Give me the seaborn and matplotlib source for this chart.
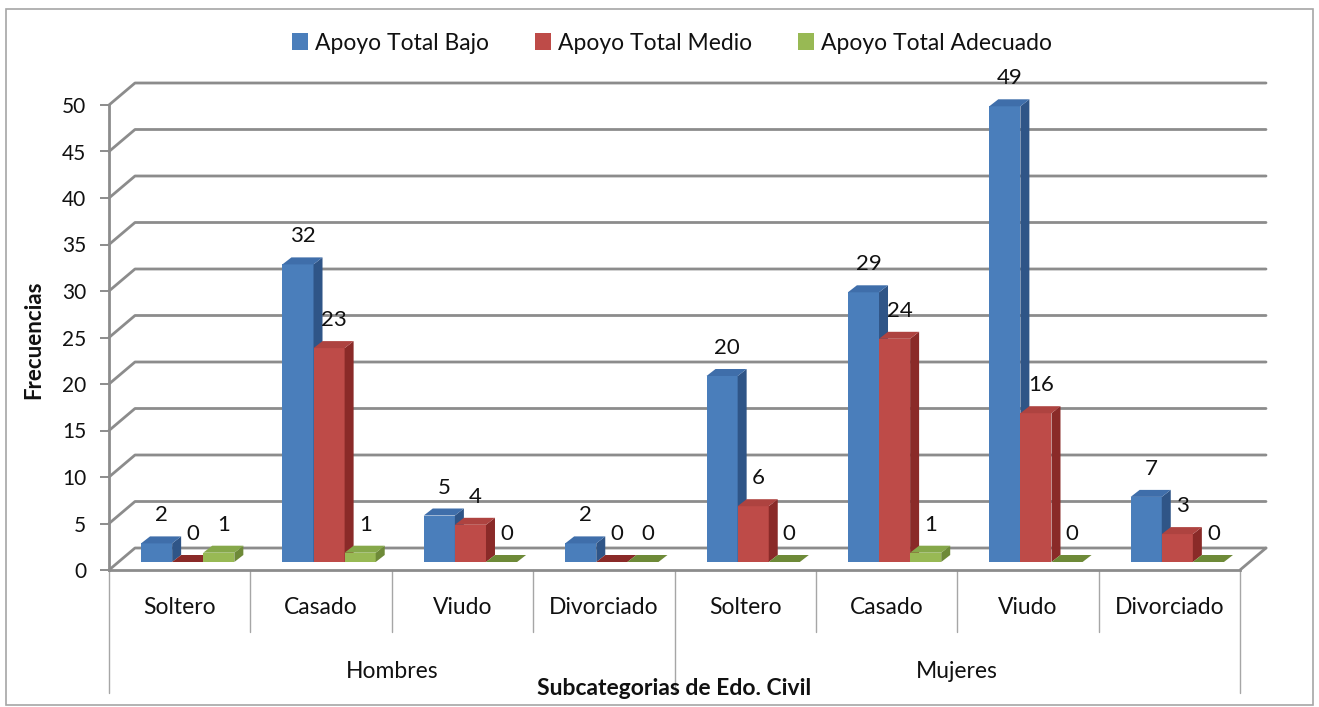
import numpy as np
import pandas as pd
import matplotlib
matplotlib.use("Agg")
import matplotlib.pyplot as plt
from matplotlib.patches import Polygon, Patch, Rectangle
from matplotlib.lines import Line2D
import seaborn as sns

# ---------------- data ----------------
grupos = ["Hombres", "Mujeres"]
estados = ["Soltero", "Casado", "Viudo", "Divorciado"]
series = ["Apoyo Total Bajo", "Apoyo Total Medio", "Apoyo Total Adecuado"]
bajo = [2, 32, 5, 2, 20, 29, 49, 7]
medio = [0, 23, 4, 0, 6, 24, 16, 3]
adecuado = [1, 1, 0, 0, 0, 1, 0, 0]
y_ticks = [0, 5, 10, 15, 20, 25, 30, 35, 40, 45, 50]

# ---------------- styling ----------------
front_col = ["#4A7EBB", "#BE4B48", "#98B954"]
side_col = ["#2F5587", "#8A2A28", "#6E8A38"]
top_col = ["#3F6EAA", "#AE4340", "#86A84A"]
grid_col = "#8C8C8C"
FONT = "Lato"

sns.set_theme(style="white")
plt.rcParams["font.family"] = [FONT, "DejaVu Sans"]
plt.rcParams["text.color"] = "#111111"

cats = [f"{g} {e}" for g in grupos for e in estados]
rows = []
for s, vals in zip(series, [bajo, medio, adecuado]):
    for c, v in zip(cats, vals):
        rows.append({"cat": c, "serie": s, "val": v})
df = pd.DataFrame(rows)

W, H = 1319, 707
fig = plt.figure(figsize=(W / 100, H / 100), dpi=100)
# axes front plane: x 109..1240 px, y(0)=570 px, y(50)=105 px
ax = fig.add_axes([109 / W, (H - 570) / H, (1240 - 109) / W, (570 - 105) / H])

sns.barplot(data=df, x="cat", y="val", hue="serie", order=cats, hue_order=series,
            palette=front_col, width=0.66, saturation=1, ax=ax, legend=False,
            errorbar=None)

ax.set_xlim(-0.5, len(cats) - 0.5)
ax.set_ylim(0, 50)

pxx = (1240 - 109) / len(cats)   # px per x unit
pxy = (570 - 105) / 50.0          # px per y unit

# perspective offsets (px -> data)
gdx, gdy = 26 / pxx, 22 / pxy     # back wall depth
bsx, bsy = 8 / pxx, 8 / pxy       # bar placement inside the box
ddx, ddy = 9 / pxx, 7 / pxy       # bar depth

# back wall gridlines + diagonals
x0, x1 = -0.5, len(cats) - 0.5
for v in y_ticks:
    ax.add_line(Line2D([x0, x0 + gdx, x1 + gdx], [v, v + gdy, v + gdy],
                       color=grid_col, lw=2.0, clip_on=False, zorder=1))
# floor right edge
ax.add_line(Line2D([x1, x1 + gdx], [0, gdy], color=grid_col, lw=2.0,
                   clip_on=False, zorder=1))

# 3D-ish bars
patches = list(ax.patches)
n = len(cats)
for si in range(len(series)):
    for ci in range(n):
        p = patches[si * n + ci]
        p.set_x(p.get_x() + bsx)
        p.set_y(p.get_y() + bsy)
        p.set_edgecolor("none")
        p.set_zorder(3 + si)
        p.set_clip_on(False)
        x, y, w, h = p.get_x(), p.get_y(), p.get_width(), p.get_height()
        top = y + h
        side = Polygon([(x + w, y), (x + w + ddx, y + ddy), (x + w + ddx, top + ddy), (x + w, top)],
                       closed=True, facecolor=side_col[si], edgecolor="none",
                       zorder=3 + si, clip_on=False)
        tcol = top_col[si] if h > 0 else side_col[si]
        topf = Polygon([(x, top), (x + ddx, top + ddy), (x + w + ddx, top + ddy), (x + w, top)],
                       closed=True, facecolor=tcol, edgecolor="none",
                       zorder=3 + si, clip_on=False)
        ax.add_patch(side)
        ax.add_patch(topf)
        ax.annotate(f"{int(h)}", (x + w / 2, top), xytext=(5, 28),
                    textcoords="offset pixels", ha="center", va="center",
                    fontsize=16, zorder=10, annotation_clip=False)

# axes styling
for s in ["top", "right"]:
    ax.spines[s].set_visible(False)
for s in ["left", "bottom"]:
    ax.spines[s].set_color(grid_col)
    ax.spines[s].set_linewidth(2.0)
ax.set_yticks(y_ticks)
ax.set_yticklabels([str(v) for v in y_ticks], fontsize=15, color="#111111")
ax.tick_params(axis="y", length=6.5, width=1.4, color=grid_col, pad=10, left=True)
ax.set_xticks([])
ax.set_xlabel("")
ax.set_ylabel("Frecuencias", fontsize=16, fontweight="bold", color="#111111")
ax.yaxis.set_label_coords(-0.0575, 0.495)

# category labels and separators
tr = ax.get_xaxis_transform()
for i, c in enumerate(cats):
    ax.text(i, -0.0817, estados[i % len(estados)], transform=tr, ha="center",
            va="center", fontsize=16.5)
for b in range(n + 1):
    xb = b - 0.5
    low = -0.2645 if b % len(estados) == 0 else -0.133
    ax.add_line(Line2D([xb, xb], [0, low], transform=tr, color="#A6A6A6",
                       lw=1.0, clip_on=False))
for gi, g in enumerate(grupos):
    xc = gi * len(estados) + (len(estados) - 1) / 2
    ax.text(xc, -0.219, g, transform=tr, ha="center", va="center", fontsize=16.5)

ax.text(0.5, -0.254, "Subcategorias de Edo. Civil", transform=ax.transAxes,
        ha="center", va="center", fontsize=16.5, fontweight="bold")

# legend
handles = [Patch(facecolor=c, edgecolor="none") for c in front_col]
fig.legend(handles, series, loc="center", bbox_to_anchor=(672 / W, 1 - 43 / H),
           ncol=3, frameon=False, fontsize=16.5, handlelength=0.7, handleheight=0.8,
           handletextpad=0.3, columnspacing=2.0)

# outer frame
fig.patches.append(Rectangle((6 / W, 2 / H), (1313 - 6) / W, (698 - 2) / H,
                             transform=fig.transFigure, fill=False,
                             edgecolor="#A6A6A6", lw=1.2))

fig.savefig("out.png", dpi=100)
